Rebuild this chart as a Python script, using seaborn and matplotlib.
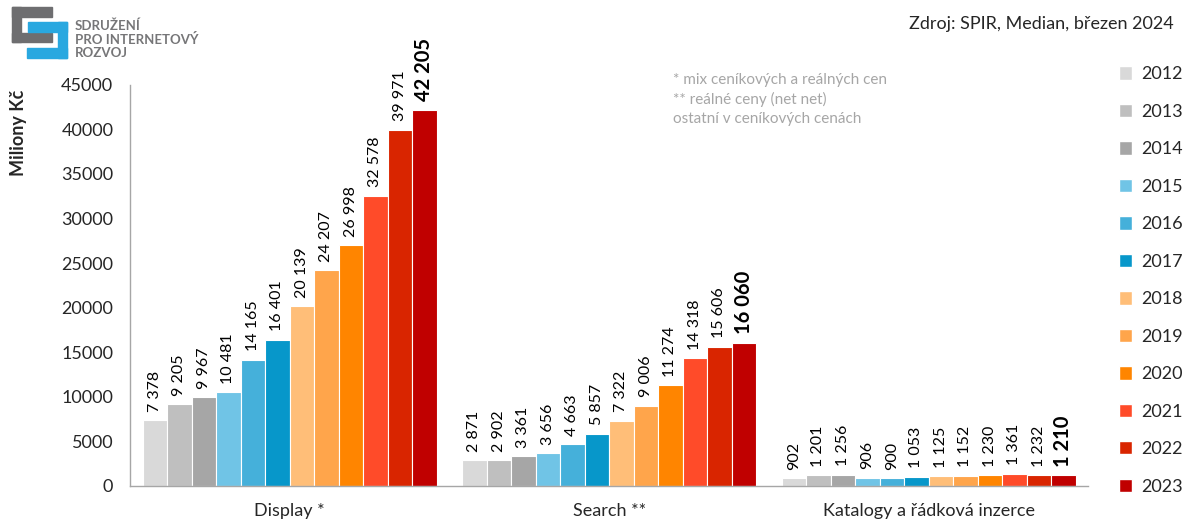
import pandas as pd
import matplotlib
matplotlib.use("Agg")
from matplotlib import pyplot as plt
from matplotlib.patches import Rectangle, Patch
import seaborn as sns

categories = ["Display *", "Search **", "Katalogy a řádková inzerce"]
years = ["2012", "2013", "2014", "2015", "2016", "2017",
         "2018", "2019", "2020", "2021", "2022", "2023"]
display = [7378, 9205, 9967, 10481, 14165, 16401, 20139, 24207, 26998, 32578, 39971, 42205]
search = [2871, 2902, 3361, 3656, 4663, 5857, 7322, 9006, 11274, 14318, 15606, 16060]
katalogy = [902, 1201, 1256, 906, 900, 1053, 1125, 1152, 1230, 1361, 1232, 1210]
colors = ["#D9D9D9", "#BFBFBF", "#A6A6A6", "#70C4E6", "#45B0DA", "#0797CA",
          "#FFBE78", "#FFA54B", "#FF8500", "#FF4B29", "#D92500", "#C00000"]

rows = []
for cat, vals in zip(categories, [display, search, katalogy]):
    for y, v in zip(years, vals):
        rows.append({"kategorie": cat, "rok": y, "hodnota": v})
df = pd.DataFrame(rows)

sns.set_style("white")
plt.rcParams["font.family"] = ["Lato", "DejaVu Sans"]

fig = plt.figure(figsize=(11.92, 5.27), dpi=100)
ax = fig.add_axes([0.109, 0.078, 0.804, 0.761])

sns.barplot(data=df, x="kategorie", y="hodnota", hue="rok", order=categories,
            hue_order=years, palette=colors, saturation=1, width=0.92, gap=0,
            edgecolor="white", linewidth=0.8, ax=ax, legend=False)

def fmt(v):
    return f"{v:,}".replace(",", " ")

for i, cont in enumerate(ax.containers):
    vals = [display[i], search[i], katalogy[i]]
    last = i == len(years) - 1
    ax.bar_label(cont, labels=[fmt(v) for v in vals], rotation=90, padding=6,
                 fontsize=14.5 if last else 11.5,
                 fontweight="bold" if last else "normal", color="black")

ax.set_xlim(-0.5, 2.5)
ax.set_ylim(0, 45000)
ax.set_yticks(range(0, 45001, 5000))
ax.set_xlabel("")
ax.set_ylabel("Miliony Kč", fontsize=13, fontweight="bold")
ax.yaxis.set_label_coords(-0.107, 0.88)
ax.tick_params(axis="y", length=0, labelsize=13, pad=12)
ax.tick_params(axis="x", which="major", length=0, labelsize=13, pad=12)
ax.set_xticks([-0.5, 0.5, 1.5, 2.5], minor=True)
ax.tick_params(axis="x", which="minor", length=7, color="#A6A6A6", direction="out")
for s in ["top", "right"]:
    ax.spines[s].set_visible(False)
for s in ["left", "bottom"]:
    ax.spines[s].set_color("#A6A6A6")
    ax.spines[s].set_linewidth(1)

handles = [Patch(facecolor=c, edgecolor="white", label=y) for c, y in zip(colors, years)]
fig.legend(handles=handles, loc="upper left", bbox_to_anchor=(0.925, 0.905),
           frameon=False, fontsize=13, handlelength=0.75, handleheight=0.75,
           handletextpad=0.5, labelspacing=1.19)

fig.text(0.565, 0.862, "* mix ceníkových a reálných cen\n** reálné ceny (net net)\nostatní v ceníkových cenách",
         fontsize=11, color="#A6A6A6", va="top", ha="left", linespacing=1.45)
fig.text(0.985, 0.955, "Zdroj: SPIR, Median, březen 2024", fontsize=13, ha="right", va="center")

# logo
lax = fig.add_axes([0.0, 0.87, 0.2, 0.13])
lax.set_xlim(0, 238)
lax.set_ylim(68.5, 0)
lax.axis("off")
grey = "#6E6E70"
blue = "#29A8E0"
lax.add_patch(Rectangle((12, 7), 40, 10, color=grey))
lax.add_patch(Rectangle((12, 7), 9, 35, color=grey))
lax.add_patch(Rectangle((12, 33), 40, 9, color=grey))
lax.add_patch(Rectangle((28, 22), 39, 10, color=blue))
lax.add_patch(Rectangle((58, 22), 9, 36, color=blue))
lax.add_patch(Rectangle((27, 48), 40, 10, color=blue))
lax.text(75, 39, "SDRUŽENÍ\nPRO INTERNETOVÝ\nROZVOJ", fontsize=9.5, fontweight="bold",
         color="#767678", va="center", ha="left", linespacing=1.08)

fig.savefig("out.png", dpi=100)
